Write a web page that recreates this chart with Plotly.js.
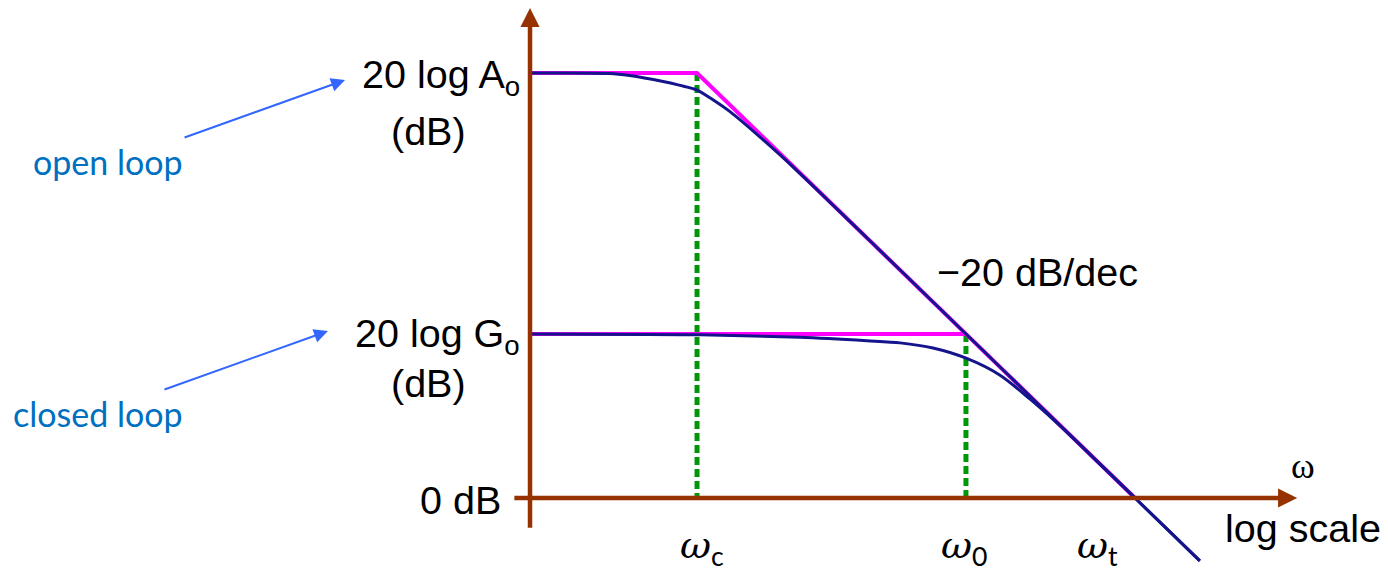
<!DOCTYPE html>
<html>
<head>
<meta charset="utf-8">
<script src="https://cdn.plot.ly/plotly-3.0.1.min.js"></script>
<style>
  html, body { margin: 0; padding: 0; background: #ffffff; }
  #chart { width: 1388px; height: 571px; }
</style>
</head>
<body>
<div id="chart"></div>
<script>
// Bode magnitude sketch: open-loop vs closed-loop gain of a single-pole amplifier.

// Break frequencies (rad/s) and gain levels (dB)
const omegaC = 10;          // open-loop corner
const omega0 = 11750;       // closed-loop corner
const omegaT = 1e6;         // unity-gain frequency
const openLoopGainDb = 100;
const closedLoopGainDb = 38.6;

// Where the drawn axes start and end
const omegaAxis = 0.124;    // vertical axis position
const omegaAxisLeft = 0.079;
const omegaAxisRight = 7.1e7;
const dbAxisTop = 115.3;
const dbAxisBottom = -7.5;

// Straight-line asymptotes
const openAsymOmega = [omegaAxis, omegaC, omegaT];
const openAsymDb = [openLoopGainDb, openLoopGainDb, 0];
const closedAsymOmega = [omegaAxis, omega0];
const closedAsymDb = [closedLoopGainDb, closedLoopGainDb];

// Actual magnitude curves
const openLoopOmega = [0.124, 1, 1.7, 4.1, 6.4, 10, 15.2, 23.8, 56.6, 138, 1000, 1e4, 1e5, 1e6, 5.5e6];
const openLoopDb    = [100, 99.9, 99.4, 98.0, 97.1, 96.0, 93.7, 90.9, 84.3, 77.05, 60, 40, 20, 0, -14.8];

const closedLoopOmega = [0.124, 10.8, 150, 870, 2080, 4940, 11800, 28800, 63000, 139000, 1e6, 5.5e6];
const closedLoopDb    = [38.6, 38.4, 37.8, 37.0, 36.5, 35.3, 32.9, 28.9, 23.3, 17.0, 0, -14.8];

// Colours
const axisBrown = '#963200';
const asymMagenta = '#ff00ff';
const curveNavy = '#14148c';
const markerGreen = '#00960a';
const noteBlue = '#0070c0';
const arrowBlue = '#3366ff';

const lg = Math.log10;

const traces = [
  // dotted guides at the corner frequencies
  { x: [omegaC, omegaC], y: [openLoopGainDb, 0], mode: 'lines',
    line: { color: markerGreen, width: 5, dash: '8px,4px' }, hoverinfo: 'skip' },
  { x: [omega0, omega0], y: [closedLoopGainDb, 0], mode: 'lines',
    line: { color: markerGreen, width: 5, dash: '8px,4px' }, hoverinfo: 'skip' },
  // asymptotes
  { x: openAsymOmega, y: openAsymDb, mode: 'lines',
    line: { color: asymMagenta, width: 4 }, hoverinfo: 'skip' },
  { x: closedAsymOmega, y: closedAsymDb, mode: 'lines',
    line: { color: asymMagenta, width: 4 }, hoverinfo: 'skip' },
  // magnitude curves
  { x: openLoopOmega, y: openLoopDb, mode: 'lines',
    line: { color: curveNavy, width: 3, shape: 'spline', smoothing: 0.8 }, hoverinfo: 'skip' },
  { x: closedLoopOmega, y: closedLoopDb, mode: 'lines',
    line: { color: curveNavy, width: 3, shape: 'spline', smoothing: 0.8 }, hoverinfo: 'skip' }
];

const sansBlack = { family: 'Liberation Sans, Arial, sans-serif', size: 39.5, color: '#000000' };
const loopFont = { family: 'Lato, sans-serif', size: 34, color: noteBlue };
const omegaFont = { family: 'DejaVu Serif, serif', size: 38, color: '#000000' };

function axisArrow(tipX, tipY, tailX, tailY) {
  return {
    xref: 'x', yref: 'y', axref: 'x', ayref: 'y',
    x: lg(tipX), y: tipY, ax: lg(tailX), ay: tailY,
    text: ' ', font: { size: 1 }, showarrow: true,
    arrowhead: 2, arrowsize: 0.85, arrowwidth: 4.5, arrowcolor: axisBrown,
    standoff: 0, startstandoff: 0
  };
}

function omegaLabel(omega, sub, shift) {
  return {
    xref: 'x', yref: 'y', x: lg(omega), y: 0, xanchor: 'center', yanchor: 'middle',
    xshift: shift, yshift: -50, showarrow: false, font: omegaFont,
    text: '<i>ω</i><sub><span style="font-family:Lato">' + sub + '</span></sub>'
  };
}

const annotations = [
  // axes (drawn first so the curves pass over them)
  axisArrow(omegaAxis, dbAxisTop, omegaAxis, dbAxisBottom),
  axisArrow(omegaAxisRight, 0, omegaAxisLeft, 0),

  // y-axis level labels
  { xref: 'x', yref: 'y', x: lg(omegaAxis), y: openLoopGainDb, xanchor: 'right', yanchor: 'middle',
    xshift: -8, yshift: -4, showarrow: false, font: sansBlack, text: '20 log A<sub>o</sub>' },
  { xref: 'x', yref: 'y', x: lg(omegaAxis), y: openLoopGainDb, xanchor: 'center', yanchor: 'middle',
    xshift: -102, yshift: -58, showarrow: false, font: sansBlack, text: '(dB)' },
  { xref: 'x', yref: 'y', x: lg(omegaAxis), y: closedLoopGainDb, xanchor: 'right', yanchor: 'middle',
    xshift: -8, yshift: -2, showarrow: false, font: sansBlack, text: '20 log G<sub>o</sub>' },
  { xref: 'x', yref: 'y', x: lg(omegaAxis), y: closedLoopGainDb, xanchor: 'center', yanchor: 'middle',
    xshift: -102, yshift: -49, showarrow: false, font: sansBlack, text: '(dB)' },
  { xref: 'x', yref: 'y', x: lg(omegaAxis), y: 0, xanchor: 'right', yanchor: 'middle',
    xshift: -27, yshift: -2, showarrow: false, font: sansBlack, text: '0 dB' },

  // frequency labels
  omegaLabel(omegaC, 'c', 5),
  omegaLabel(omega0, '0', -2),
  omegaLabel(omegaT, 't', -38),

  // horizontal axis caption
  { xref: 'x', yref: 'y', x: lg(omegaAxisRight), y: 0, xanchor: 'center', yanchor: 'middle',
    xshift: 6, yshift: 32, showarrow: false,
    font: { family: 'Liberation Serif, serif', size: 36, color: '#000000' }, text: 'ω' },
  { xref: 'x', yref: 'y', x: lg(omegaAxisRight), y: 0, xanchor: 'center', yanchor: 'middle',
    xshift: 6, yshift: -30, showarrow: false, font: sansBlack, text: 'log scale' },

  // slope note
  { xref: 'paper', yref: 'paper', x: 0.6736, y: 0.5236, xanchor: 'left', yanchor: 'middle',
    showarrow: false, font: sansBlack, text: '\u221220 dB/dec' },

  // loop callouts
  { xref: 'paper', yref: 'paper', x: 0.0778, y: 0.7163, xanchor: 'center', yanchor: 'middle',
    showarrow: false, font: loopFont, text: 'open loop' },
  { xref: 'paper', yref: 'paper', x: 0.0706, y: 0.2767, xanchor: 'center', yanchor: 'middle',
    showarrow: false, font: loopFont, text: 'closed loop' },
  { xref: 'paper', yref: 'paper', x: 0.2486, y: 0.8599, ax: -162, ay: 58,
    text: ' ', font: { size: 1 }, showarrow: true, arrowhead: 2, arrowsize: 1.4,
    arrowwidth: 2, arrowcolor: arrowBlue, standoff: 0 },
  { xref: 'paper', yref: 'paper', x: 0.2363, y: 0.4203, ax: -165, ay: 59,
    text: ' ', font: { size: 1 }, showarrow: true, arrowhead: 2, arrowsize: 1.4,
    arrowwidth: 2, arrowcolor: arrowBlue, standoff: 0 }
];

const layout = {
  width: 1388, height: 571,
  margin: { l: 0, r: 0, t: 0, b: 0 },
  paper_bgcolor: '#ffffff', plot_bgcolor: '#ffffff',
  showlegend: false,
  xaxis: { type: 'log', range: [-6.957, 8.888], visible: false, fixedrange: true },
  yaxis: { range: [-17.18, 117.18], visible: false, fixedrange: true },
  annotations: annotations
};

Plotly.newPlot('chart', traces, layout, { staticPlot: true, displayModeBar: false });
</script>
</body>
</html>
